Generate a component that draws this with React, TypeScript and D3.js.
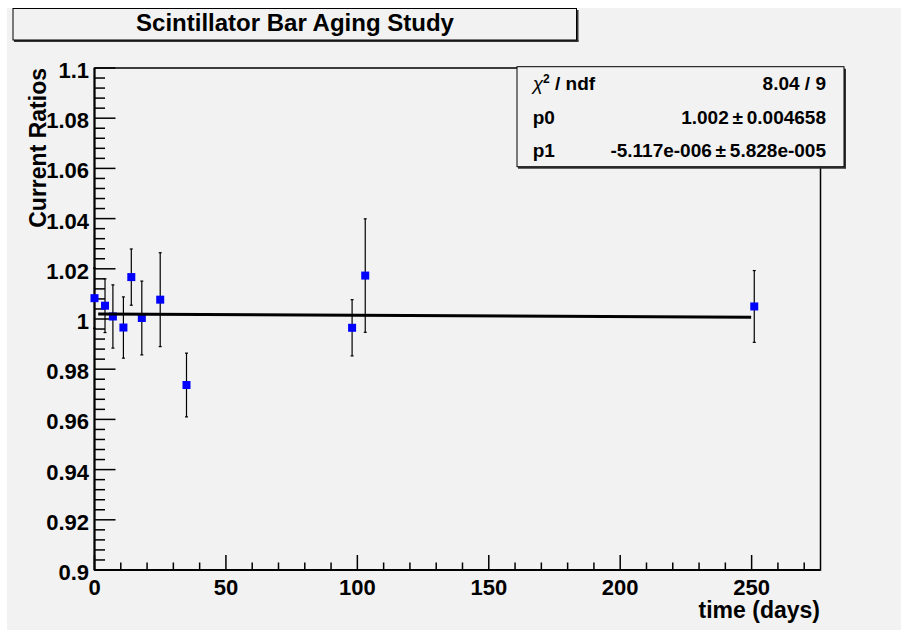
import React from "react";
import * as d3 from "d3";

// ---- data ----
const days = [0, 4, 7, 11, 14, 18, 25, 35, 98, 103, 251];
const ratios = [1.0083, 1.0053, 1.001, 0.9966, 1.0167, 1.0004, 1.0077, 0.9737, 0.9965, 1.0173, 1.005];
const errors = [0.012, 0.0107, 0.0126, 0.0122, 0.0112, 0.0147, 0.0187, 0.0127, 0.0112, 0.0226, 0.0143];

const fitP0 = 1.002;
const fitP1 = -5.117e-6;
const fitRange = [1.4, 249.8];

const xMajorTicks = [0, 50, 100, 150, 200, 250];
const yMajorTicks = [0.9, 0.92, 0.94, 0.96, 0.98, 1.0, 1.02, 1.04, 1.06, 1.08, 1.1];

const titleText = "Scintillator Bar Aging Study";
const xTitle = "time (days)";
const yTitle = "Current Ratios";
const statsRows = [
  { label: "chi", value: "8.04 / 9" },
  { label: "p0", value: "1.002\u2009\u00B1\u20090.004658" },
  { label: "p1", value: "-5.117e-006\u2009\u00B1\u20095.828e-005" },
];

const FONT = "'Liberation Sans', Arial, Helvetica, sans-serif";
const BG = "#f2f2f2";

export default function App() {
  const W = 901;
  const H = 630;
  const left = 94.5, right = 820.5, top = 68, bottom = 570;

  const x = d3.scaleLinear().domain([0, 276.2]).range([left, right]);
  const y = d3.scaleLinear().domain([0.9, 1.1]).range([bottom, top]);

  const xMinor = d3.range(0, 276, 10).filter((v) => v % 50 !== 0);
  const yMinor = d3.range(0, 51).map((i) => 0.9 + i * 0.004).filter((_, i) => i % 5 !== 0);

  const fitLine = d3
    .line<number>()
    .x((d) => x(d))
    .y((d) => y(fitP0 + fitP1 * d));

  const fmtY = (v: number) => String(Number(v.toFixed(2)));

  const statsX0 = 517, statsX1 = 844, statsY0 = 66.7, statsY1 = 166.7;
  const rowH = (statsY1 - statsY0) / statsRows.length;

  return (
    <svg
      width={W}
      height={H}
      style={{ position: "absolute", left: 0, top: 0, display: "block" }}
      fontFamily={FONT}
    >
      <rect x={0} y={0} width={W} height={H} fill="#ffffff" />
      <rect x={7} y={8} width={W - 7} height={H - 8} fill={BG} />

      {/* Title box */}
      <g>
        <line x1={577.5} y1={10} x2={577.5} y2={41.5} stroke="#333" strokeWidth={2} />
        <line x1={14} y1={41} x2={578.5} y2={41} stroke="#333" strokeWidth={2} />
        <rect x={13} y={8.5} width={563.5} height={31.5} fill={BG} stroke="#000" strokeWidth={1} />
        <text x={295} y={31} textAnchor="middle" fontSize={24} fontWeight="bold" fill="#000">
          {titleText}
        </text>
      </g>

      {/* Frame */}
      <rect x={left} y={top} width={right - left} height={bottom - top} fill="none" stroke="#000" strokeWidth={1.5} />

      {/* Y axis */}
      <line x1={left} y1={top} x2={left} y2={bottom} stroke="#000" strokeWidth={2} />
      {yMajorTicks.map((v) => (
        <line key={"ym" + v} x1={left} x2={left + 21} y1={y(v)} y2={y(v)} stroke="#000" strokeWidth={1.5} />
      ))}
      {yMinor.map((v, i) => (
        <line key={"yn" + i} x1={left} x2={left + 10.5} y1={y(v)} y2={y(v)} stroke="#000" strokeWidth={1.5} />
      ))}
      {yMajorTicks.map((v) => (
        <text key={"yl" + v} x={89} y={y(v) + 10} textAnchor="end" fontSize={22} fontWeight="bold" fill="#000">
          {fmtY(v)}
        </text>
      ))}

      {/* X axis */}
      <line x1={left} y1={bottom} x2={right} y2={bottom} stroke="#000" strokeWidth={2} />
      {xMajorTicks.map((v) => (
        <line key={"xm" + v} x1={x(v)} x2={x(v)} y1={bottom} y2={bottom - 15} stroke="#000" strokeWidth={1.5} />
      ))}
      {xMinor.map((v) => (
        <line key={"xn" + v} x1={x(v)} x2={x(v)} y1={bottom} y2={bottom - 7.5} stroke="#000" strokeWidth={1.5} />
      ))}
      {xMajorTicks.map((v) => (
        <text key={"xl" + v} x={x(v)} y={594.5} textAnchor="middle" fontSize={22} fontWeight="bold" fill="#000">
          {String(v)}
        </text>
      ))}

      {/* Axis titles */}
      <text x={820} y={618} textAnchor="end" fontSize={23} fontWeight="bold" fill="#000">
        {xTitle}
      </text>
      <text
        transform={`translate(46,68) rotate(-90)`}
        textAnchor="end"
        fontSize={23}
        fontWeight="bold"
        fill="#000"
      >
        {yTitle}
      </text>

      {/* Error bars */}
      {days.map((d, i) => {
        const cx = x(d);
        const y1 = y(ratios[i] + errors[i]);
        const y2 = y(ratios[i] - errors[i]);
        return (
          <g key={"e" + i} stroke="#000" strokeWidth={1.2}>
            <line x1={cx} x2={cx} y1={y1} y2={y2} />
            <line x1={cx - 1.5} x2={cx + 1.5} y1={y1} y2={y1} />
            <line x1={cx - 1.5} x2={cx + 1.5} y1={y2} y2={y2} />
          </g>
        );
      })}

      {/* Markers */}
      {days.map((d, i) => (
        <rect key={"m" + i} x={x(d) - 4} y={y(ratios[i]) - 4} width={8} height={8} fill="#0000ff" />
      ))}

      {/* Fit line */}
      <path d={fitLine(fitRange) || ""} fill="none" stroke="#000" strokeWidth={3} />

      {/* Stats box */}
      <g>
        <line x1={statsX1 + 1} y1={statsY0 + 2} x2={statsX1 + 1} y2={statsY1 + 1.5} stroke="#333" strokeWidth={2} />
        <line x1={statsX0 + 1} y1={statsY1 + 1} x2={statsX1 + 2} y2={statsY1 + 1} stroke="#333" strokeWidth={2} />
        <rect x={statsX0} y={statsY0} width={statsX1 - statsX0} height={statsY1 - statsY0} fill={BG} stroke="#000" strokeWidth={1} />
        {statsRows.map((r, i) => {
          const by = statsY0 + rowH * i + rowH / 2 + 7;
          return (
            <g key={"s" + i} fontSize={19} fontWeight="bold" fill="#000">
              {r.label === "chi" ? (
                <text x={532.7} y={by}>
                  <tspan fontWeight="normal" fontStyle="italic">χ</tspan>
                  <tspan dy={-7} fontSize={12}>2</tspan>
                  <tspan dy={7}> / ndf</tspan>
                </text>
              ) : (
                <text x={532.7} y={by}>{r.label}</text>
              )}
              <text x={826} y={by} textAnchor="end">{r.value}</text>
            </g>
          );
        })}
      </g>
    </svg>
  );
}
